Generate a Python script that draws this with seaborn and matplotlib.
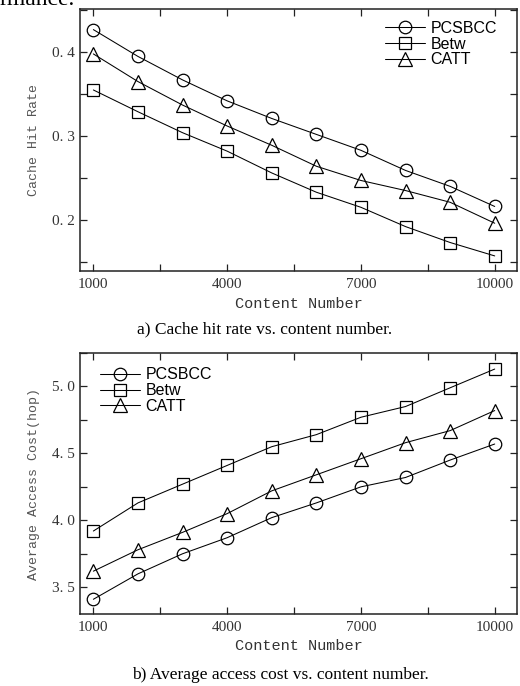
import matplotlib
matplotlib.use("Agg")
import matplotlib.pyplot as plt
import seaborn as sns
import pandas as pd
from matplotlib.ticker import FixedLocator, FixedFormatter, MultipleLocator

sns.set_style("ticks")
plt.rcParams["font.family"] = ["Liberation Serif", "DejaVu Serif"]

content_numbers = [1000, 2000, 3000, 4000, 5000, 6000, 7000, 8000, 9000, 10000]
methods = ["PCSBCC", "Betw", "CATT"]

hit_pcsbcc = [0.427, 0.395, 0.367, 0.342, 0.321, 0.302, 0.283, 0.259, 0.240, 0.216]
hit_betw = [0.355, 0.329, 0.304, 0.282, 0.256, 0.233, 0.215, 0.192, 0.173, 0.157]
hit_catt = [0.398, 0.365, 0.337, 0.312, 0.289, 0.264, 0.247, 0.235, 0.221, 0.196]

cost_pcsbcc = [3.41, 3.60, 3.75, 3.87, 4.02, 4.13, 4.25, 4.32, 4.45, 4.57]
cost_betw = [3.92, 4.13, 4.27, 4.41, 4.55, 4.64, 4.77, 4.85, 4.99, 5.13]
cost_catt = [3.62, 3.78, 3.91, 4.05, 4.22, 4.34, 4.46, 4.58, 4.67, 4.82]

x_ticks = [1000, 4000, 7000, 10000]
x_ticklabels = ["1000", "4000", "7000", "10000"]
hit_ticks = [0.2, 0.3, 0.4]
hit_ticklabels = ["0. 2", "0. 3", "0. 4"]
cost_ticks = [3.5, 4.0, 4.5, 5.0]
cost_ticklabels = ["3. 5", "4. 0", "4. 5", "5. 0"]

xlabel = "Content Number"
ylabel_a = "Cache Hit Rate"
ylabel_b = "Average Access Cost(hop)"
caption_a = "a) Cache hit rate vs. content number."
caption_b = "b) Average access cost vs. content number."
top_text = "rmance."

markers = {"PCSBCC": "o", "Betw": "s", "CATT": "^"}
msizes = {"PCSBCC": 9.0, "Betw": 8.3, "CATT": 10.5}

W, H = 520, 686
fig = plt.figure(figsize=(W / 100, H / 100), dpi=100)

def frac(l, t, r, b):
    return [l / W, 1 - b / H, (r - l) / W, (b - t) / H]

ax1 = fig.add_axes(frac(80, 9, 517, 271))
ax2 = fig.add_axes(frac(80, 353, 517, 614))

def draw(ax, series, yticks, yticklabels, ylim, yminor, ylabel, legend_anchor):
    for name, vals in zip(methods, series):
        df = pd.DataFrame({"x": content_numbers, "y": vals})
        sns.lineplot(data=df, x="x", y="y", ax=ax, color="black", linewidth=0.75,
                     marker=markers[name], markersize=msizes[name],
                     markerfacecolor="none", markeredgecolor="black",
                     markeredgewidth=0.9, label=name)
    ax.set_xlim(700, 10500)
    ax.set_ylim(*ylim)
    ax.xaxis.set_major_locator(FixedLocator(x_ticks))
    ax.xaxis.set_major_formatter(FixedFormatter(x_ticklabels))
    ax.xaxis.set_minor_locator(FixedLocator([2500, 5500, 8500]))
    ax.yaxis.set_major_locator(FixedLocator(yticks))
    ax.yaxis.set_major_formatter(FixedFormatter(yticklabels))
    ax.yaxis.set_minor_locator(MultipleLocator(yminor))
    ax.tick_params(which="both", direction="in", top=True, right=True,
                   length=5, width=0.9, color="#222222", labelsize=11,
                   labelcolor="#333333", pad=5)
    ax.tick_params(axis="y", pad=4)
    for s in ax.spines.values():
        s.set_visible(True)
        s.set_linewidth(1.1)
        s.set_color("#222222")
    ax.set_xlabel(xlabel, family="Liberation Mono", fontsize=11, color="#333333", labelpad=4)
    ax.set_ylabel(ylabel, family="Liberation Mono", fontsize=9.5, color="#555555", labelpad=8)
    leg = ax.legend(loc="upper left", bbox_to_anchor=legend_anchor, frameon=False,
                    prop={"family": "Liberation Sans", "size": 11.5},
                    handlelength=2.5, handletextpad=0.35, labelspacing=0.05,
                    borderpad=0, borderaxespad=0)
    for t in leg.get_texts():
        t.set_color("black")

draw(ax1, [hit_pcsbcc, hit_betw, hit_catt], hit_ticks, hit_ticklabels,
     (0.139, 0.4516), 0.05, ylabel_a, (0.698, 0.955))
draw(ax2, [cost_pcsbcc, cost_betw, cost_catt], cost_ticks, cost_ticklabels,
     (3.30, 5.25), 0.25, ylabel_b, (0.046, 0.945))

fig.text(265 / W, 1 - 329 / H, caption_a, ha="center", va="center",
         family="Liberation Serif", fontsize=12.5, color="black")
fig.text(280 / W, 1 - 675 / H, caption_b, ha="center", va="center",
         family="Liberation Serif", fontsize=12.5, color="black")
fig.text(0.0, 1 - 5 / H, top_text, ha="left", va="baseline",
         family="Liberation Serif", fontsize=17, color="black")

fig.savefig("out.png", dpi=100)
